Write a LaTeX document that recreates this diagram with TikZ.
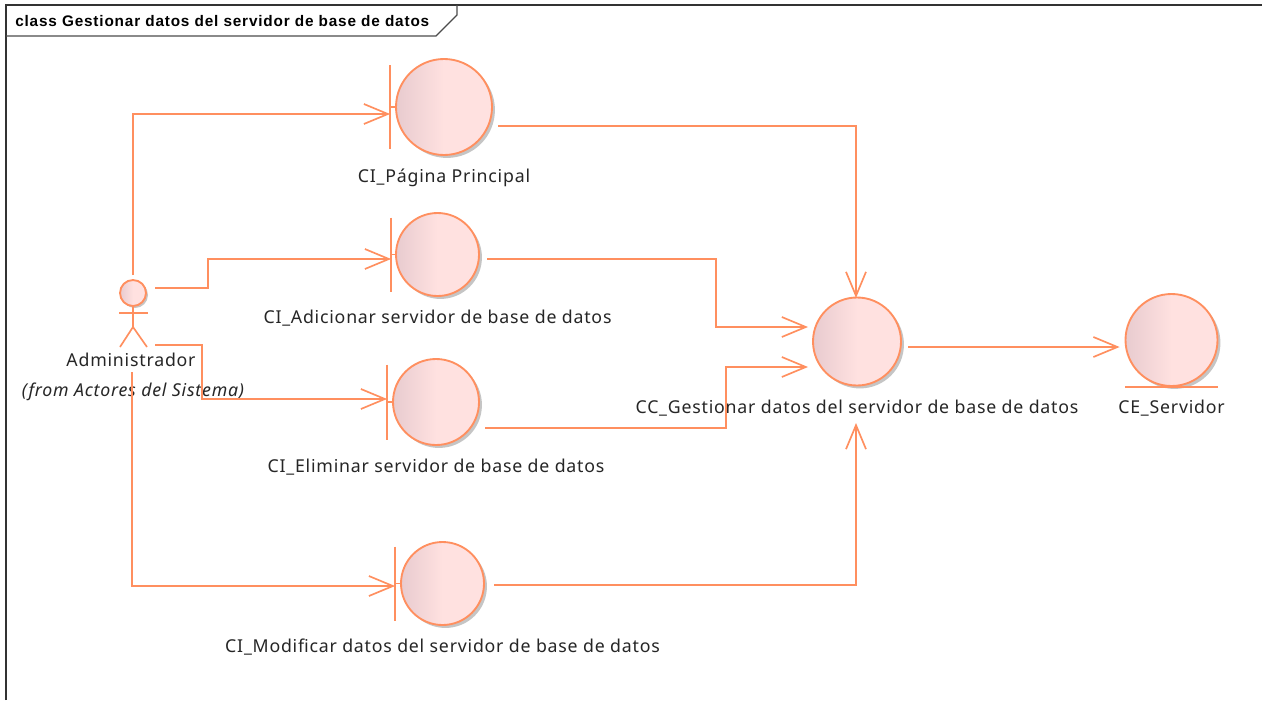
\documentclass[tikz,border=0pt]{standalone}
\usepackage{fontspec}
\setmainfont[LetterSpace=4.4]{Noto Sans}
\newfontfamily\titlefont[LetterSpace=5.4]{Liberation Sans}
\usetikzlibrary{calc}
\usetikzlibrary{positioning}
\usetikzlibrary{arrows.meta}
\usetikzlibrary{shadows}
\definecolor{linecolor}{HTML}{FF8F5F}
\definecolor{shadeleft}{HTML}{E8CBCF}
\definecolor{shaderight}{HTML}{FFE1E0}
\def\thickness{1.25pt}
\tikzset{
link/.style={
	draw=linecolor, line width=\thickness,
	-{Straight Barb[length=18pt,width=15pt,line width=1.25pt]}
},
solidline/.style={draw=linecolor, line width=\thickness},
lifeball/.style 2 args={
	circle, draw=linecolor, line width=1.4pt, inner sep=0pt, minimum size=#1,
	left color=shadeleft, right color=shaderight, middle color=shaderight,
	drop shadow={shadow xshift=2.2pt, shadow yshift=-2.2pt, opacity=0.45},
	label={[label distance=6.5pt, font=\fontsize{13.3}{16}\selectfont, text=black!85]below:#2}
},
}
\begin{document}
\begin{tikzpicture}[x=0.75pt, y=-0.75pt]
	\useasboundingbox (0,0) rectangle (1262,700);
	\fill[white] (0,0) rectangle (1262,700);
	
	%
	\node[inner sep=0pt, anchor=west, font=\titlefont\bfseries\fontsize{11.5}{14}\selectfont] (title) at (15,21) {class Gestionar datos del servidor de base de datos};
	\draw[black!80, line width=1pt] (6,700) -- (6,5) -- (1262,5);
	\draw[black!70, line width=1pt] (457,5) -- (457,15) -- (436,36) -- (6,36);
	
	%
	\node[lifeball={72pt}{CI\_Página Principal}] (pag) at (444,107) {};
	\node[lifeball={62.25pt}{CI\_Adicionar servidor de base de datos}] (adi) at (437.5,254.5) {};
	\node[lifeball={64.5pt}{CI\_Eliminar servidor de base de datos}] (eli) at (436,402) {};
	\node[lifeball={62.25pt}{CI\_Modificar datos del servidor de base de datos}] (mod) at (442.5,583.5) {};
	\node[lifeball={66pt}{CC\_Gestionar datos del servidor de base de datos}] (ctl) at (857,341.5) {};
	\node[lifeball={69pt}{CE\_Servidor}] (ent) at (1171.5,340) {};
	
	%
	\foreach \name/\gap/\tall in {pag/5/42, adi/4/37, eli/5/37.5, mod/5/37} {
		\coordinate (\name bar) at ($(\name.west)+(-\gap,0)$);
		\draw[solidline] ($(\name bar)+(0,-\tall)$) -- ($(\name bar)+(0,\tall)$);
		\draw[solidline] (\name bar) -- (\name.west);
	}
	\draw[solidline] ($(ent.south west)+(-13,13.5)$) -- ($(ent.south east)+(13,13.5)$);
	
	%
	\node[circle, draw=linecolor, line width=1.4pt, inner sep=0pt, minimum size=19.5pt,
		left color=shadeleft, right color=shaderight, middle color=shaderight,
		drop shadow={shadow xshift=1.5pt, shadow yshift=-1.5pt, opacity=0.45}] (head) at (133,293) {};
	\coordinate (hip) at (133,327);
	\coordinate (footl) at (120,347);
	\coordinate (footr) at (147,347);
	\draw[solidline] (head) -- (hip);
	\draw[solidline] (119,313) -- (148,313);
	\draw[solidline] (footl) -- (hip) -- (footr);
	\node[font=\fontsize{13.3}{16}\selectfont, text=black!85] (admin) at (131,360) {Administrador};
	\node[font=\fontsize{13.3}{16}\itshape\selectfont, text=black!85] (from) at (133,392) {(from Actores del Sistema)};
	
	%
	\coordinate (up) at (133,275);
	\coordinate (armhi) at (155,288);
	\coordinate (armlo) at (155,345);
	\coordinate (down) at (132,372);
	\coordinate (pagout) at (498,126);
	\coordinate (adiout) at (487,259);
	\coordinate (eliout) at (485,428);
	\coordinate (modout) at (494,585);
	\coordinate (ctlout) at (908,347);
	
	\draw[link] (up) |- ($(pagbar)+(0,7)$);
	\draw[link] (armhi) -- (208,288) -- (208,259) -- ($(adibar)+(0,4.5)$);
	\draw[link] (armlo) -- (202,345) -- (202,399) -- ($(elibar)+(0,-3)$);
	\draw[link] (down) |- ($(modbar)+(0,2.5)$);
	
	\draw[link] (pagout) -| (856,298);
	\draw[link] (adiout) -- (716,259) -- (716,327) -- (808,327);
	\draw[link] (eliout) -- (726,428) -- (726,367) -- (808,367);
	\draw[link] (modout) -| (856,423);
	\draw[link] (ctlout) -- ($(ent.west)+(-5,7)$);
\end{tikzpicture}
\end{document}
